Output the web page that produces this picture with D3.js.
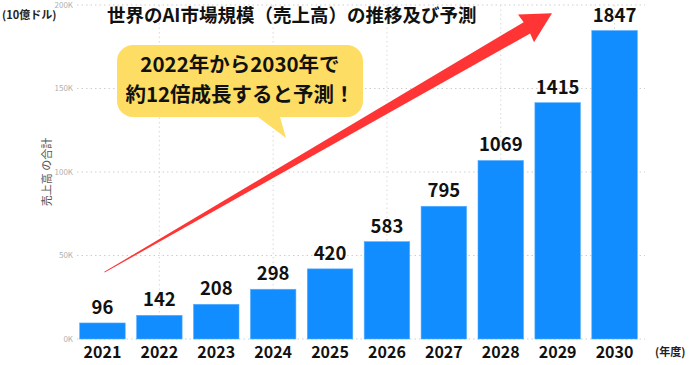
<!DOCTYPE html>
<html>
<head>
<meta charset="utf-8">
<script src="https://cdn.jsdelivr.net/npm/d3@7"></script>
<style>
  html, body { margin: 0; padding: 0; background: #fff; }
  svg { display: block; font-family: "Noto Sans CJK JP", "Noto Sans", sans-serif; }
</style>
</head>
<body>
<svg id="chart" width="698" height="365"></svg>
<script>
// ---- data ----
const years = ["2021","2022","2023","2024","2025","2026","2027","2028","2029","2030"];
const sales = [96, 142, 208, 298, 420, 583, 795, 1069, 1415, 1847]; // 10億ドル
const yTicks = [0, 500, 1000, 1500, 2000];
const gridYears = ["2022","2024","2026","2028","2030"];
const titleText = "世界のAI市場規模（売上高）の推移及び予測";
const unitText = "(10億ドル)";
const xUnitText = "(年度)";
const yAxisTitle = "売上高 の合計";
const bubbleLines = ["2022年から2030年で", "約12倍成長すると予測！"];

const W = 698, H = 365;
const margin = { left: 74, right: 55, top: 5, bottom: 26 };
const svg = d3.select("#chart");

const x = d3.scaleBand().domain(years)
  .range([margin.left, W - margin.right])
  .paddingInner(0.2).paddingOuter(0.1);
const y = d3.scaleLinear().domain([0, 2000]).range([H - margin.bottom, margin.top]);

// horizontal dotted gridlines
svg.append("g").selectAll("line").data(yTicks).join("line")
  .attr("x1", margin.left + 3).attr("x2", W - margin.right + 2)
  .attr("y1", d => y(d)).attr("y2", d => y(d))
  .attr("stroke", "#cfcfcf").attr("stroke-width", 1)
  .attr("stroke-dasharray", "1.5,3");

// vertical dotted gridlines
svg.append("g").selectAll("line").data(gridYears).join("line")
  .attr("x1", d => x(d) + x.bandwidth() / 2).attr("x2", d => x(d) + x.bandwidth() / 2)
  .attr("y1", y(2000)).attr("y2", y(0))
  .attr("stroke", "#d9d9d9").attr("stroke-width", 1)
  .attr("stroke-dasharray", "1.5,3");

// y tick labels
svg.append("g").selectAll("text").data(yTicks).join("text")
  .attr("x", margin.left - 1).attr("y", d => y(d))
  .attr("dy", "0.35em").attr("text-anchor", "end")
  .attr("font-size", 8).attr("fill", "#b0b0b0")
  .text(d => (d * 100 / 1000) + "K");

// y axis title
svg.append("text")
  .attr("transform", `translate(51,${(y(0) + y(2000)) / 2}) rotate(-90)`)
  .attr("text-anchor", "middle").attr("font-size", 11).attr("fill", "#555")
  .text(yAxisTitle);

// bars
svg.append("g").selectAll("rect").data(years).join("rect")
  .attr("x", d => x(d)).attr("width", x.bandwidth())
  .attr("y", (d, i) => y(sales[i])).attr("height", (d, i) => y(0) - y(sales[i]))
  .attr("fill", "#118DFF").attr("stroke", "#5aaeff").attr("stroke-width", 0.6);

// value labels
svg.append("g").selectAll("text").data(years).join("text")
  .attr("x", d => x(d) + x.bandwidth() / 2)
  .attr("y", (d, i) => y(sales[i]) - 9)
  .attr("text-anchor", "middle").attr("font-size", 18.5).attr("font-weight", 700)
  .attr("fill", "#111")
  .text((d, i) => sales[i]);

// year labels
svg.append("g").selectAll("text").data(years).join("text")
  .attr("x", d => x(d) + x.bandwidth() / 2)
  .attr("y", H - 13).attr("dy", "0.35em")
  .attr("text-anchor", "middle").attr("font-size", 16).attr("font-weight", 700)
  .attr("fill", "#111")
  .text(d => d);

// unit labels
svg.append("text").attr("x", 2).attr("y", 15).attr("dy", "0.35em")
  .attr("font-size", 11).attr("font-weight", 700).attr("fill", "#222").text(unitText);
svg.append("text").attr("x", 655).attr("y", 352).attr("dy", "0.35em")
  .attr("font-size", 11).attr("font-weight", 700).attr("fill", "#222").text(xUnitText);

// title
svg.append("text").attr("x", 107).attr("y", 16).attr("dy", "0.35em")
  .attr("font-size", 18.5).attr("font-weight", 700).attr("fill", "#111").text(titleText);

// red arrow (tapered), anchored via scales
(function () {
  const x0 = x("2021") + x.bandwidth() / 2 + 2, y0 = y(400);
  const x1 = 552, y1 = y(1950);
  const dx = x1 - x0, dy = y1 - y0, L = Math.hypot(dx, dy);
  const ux = dx / L, uy = dy / L, nx = -uy, ny = ux;
  const headLen = 29, headHalf = 16, shaftHalf = 6.5, tailHalf = 0.4;
  const P = (u, v) => [x0 + ux * u + nx * v, y0 + uy * u + ny * v];
  const pts = [
    P(0, -tailHalf), P(L - headLen, -shaftHalf), P(L - headLen - 1, -headHalf),
    P(L, 0),
    P(L - headLen - 1, headHalf), P(L - headLen, shaftHalf), P(0, tailHalf)
  ];
  svg.append("path").attr("d", d3.line()(pts) + "Z").attr("fill", "#ff3535");
})();

// speech bubble
(function () {
  const bx0 = 117, bx1 = 363, by0 = 45, by1 = 117, r = 16;
  const tl = 258, tr = 280, tipX = 286, tipY = 138;
  const p = d3.path();
  p.moveTo(bx0 + r, by0);
  p.lineTo(bx1 - r, by0);
  p.arcTo(bx1, by0, bx1, by0 + r, r);
  p.lineTo(bx1, by1 - r);
  p.arcTo(bx1, by1, bx1 - r, by1, r);
  p.lineTo(tr, by1);
  p.lineTo(tipX, tipY);
  p.lineTo(tl, by1);
  p.lineTo(bx0 + r, by1);
  p.arcTo(bx0, by1, bx0, by1 - r, r);
  p.lineTo(bx0, by0 + r);
  p.arcTo(bx0, by0, bx0 + r, by0, r);
  p.closePath();
  svg.append("path").attr("d", p.toString()).attr("fill", "#fedd64");
  svg.append("g").selectAll("text").data(bubbleLines).join("text")
    .attr("x", (bx0 + bx1) / 2).attr("y", (d, i) => 65 + i * 30).attr("dy", "0.35em")
    .attr("text-anchor", "middle").attr("font-size", 20.5).attr("font-weight", 700)
    .attr("fill", "#111").text(d => d);
})();
</script>
</body>
</html>
